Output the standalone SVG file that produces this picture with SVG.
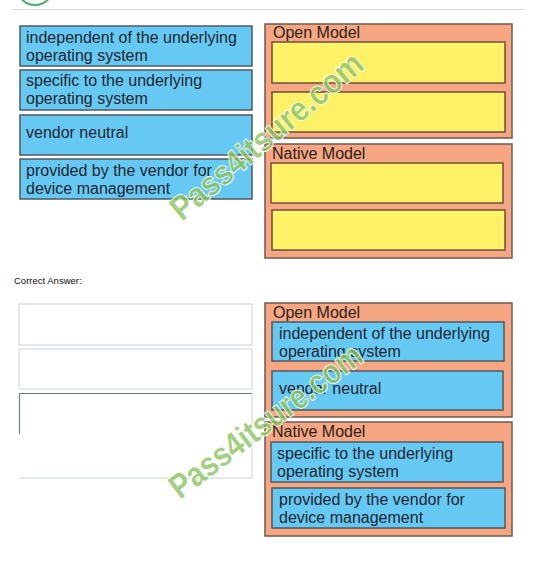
<svg xmlns="http://www.w3.org/2000/svg" width="550" height="566" viewBox="0 0 550 566">
<style>
.item{fill:#66c9f3;stroke:#4d5a60;stroke-width:1.5}
.slot{fill:#fff266;stroke:#6b5040;stroke-width:1.5}
.cont{fill:#f6a682;stroke:#6e5a52;stroke-width:1.5}
.empty{fill:#ffffff;stroke:#c8d2d6;stroke-width:1}
.t{font-family:"Liberation Sans",Arial,sans-serif;font-size:16px;fill:#1f2630}
.h{font-family:"Liberation Sans",Arial,sans-serif;font-size:16px;fill:#2a1f1a}
.wm{font-family:"Liberation Sans",Arial,sans-serif;font-weight:bold;font-size:34px;fill:#86c05a;fill-opacity:0.75;stroke:#ffffff;stroke-width:1.5;paint-order:stroke}
</style>
<rect width="550" height="566" fill="#ffffff"/>
<g id="header">
<circle cx="35" cy="-13" r="18" fill="none" stroke="#4cae6a" stroke-width="2"/>
<line x1="12" y1="9.5" x2="525" y2="9.5" stroke="#dddddd" stroke-width="1"/>
</g>
<g id="q-items">
<g id="q-item1"><rect class="item" x="20" y="26" width="232" height="40"/><text class="t" x="26" y="43">independent of the underlying</text><text class="t" x="26" y="61">operating system</text></g>
<g id="q-item2"><rect class="item" x="20" y="70" width="232" height="40"/><text class="t" x="26" y="86">specific to the underlying</text><text class="t" x="26" y="104">operating system</text></g>
<g id="q-item3"><rect class="item" x="20" y="115" width="232" height="40"/><text class="t" x="26" y="138">vendor neutral</text></g>
<g id="q-item4"><rect class="item" x="20" y="159" width="232" height="40"/><text class="t" x="26" y="176">provided by the vendor for</text><text class="t" x="26" y="194">device management</text></g>
</g>
<g id="q-open">
<rect class="cont" x="265" y="24" width="247" height="114"/>
<text class="h" x="273" y="38">Open Model</text>
<rect class="slot" x="272" y="42" width="233" height="41"/>
<rect class="slot" x="272" y="92" width="233" height="40"/>
</g>
<g id="q-native">
<rect class="cont" x="265" y="144" width="247" height="114"/>
<text class="h" x="272" y="159">Native Model</text>
<rect class="slot" x="271" y="163" width="232" height="40"/>
<rect class="slot" x="272" y="210" width="233" height="40"/>
</g>
<text id="label-correct" x="14" y="284" font-family="Liberation Sans,Arial,sans-serif" font-size="9.5" fill="#111">Correct Answer:</text>
<g id="a-empty">
<rect class="empty" x="19" y="304" width="233" height="41"/>
<rect class="empty" x="19" y="349" width="233" height="40"/>
<path d="M19.5 434 V393.5 H252" fill="none" stroke="#6f7f86" stroke-width="1.2"/>
<path d="M252 394 V478 H19" fill="none" stroke="#c8d2d6" stroke-width="1"/>
</g>
<g id="a-open">
<rect class="cont" x="265" y="303" width="247" height="114"/>
<text class="h" x="273" y="318">Open Model</text>
<g id="a-item1"><rect class="item" x="272" y="322" width="232" height="39"/><text class="t" x="279" y="339">independent of the underlying</text><text class="t" x="279" y="357">operating system</text></g>
<g id="a-item3"><rect class="item" x="272" y="371" width="231" height="39"/><text class="t" x="279" y="394">vendor neutral</text></g>
</g>
<g id="a-native">
<rect class="cont" x="265" y="422" width="247" height="114"/>
<text class="h" x="272" y="437">Native Model</text>
<g id="a-item2"><rect class="item" x="271" y="442" width="232" height="40"/><text class="t" x="277" y="459">specific to the underlying</text><text class="t" x="277" y="477">operating system</text></g>
<g id="a-item4"><rect class="item" x="272" y="488" width="233" height="40"/><text class="t" x="279" y="505">provided by the vendor for</text><text class="t" x="279" y="523">device management</text></g>
</g>
<g id="watermarks">
<text class="wm" transform="translate(182,222) rotate(-40)" textLength="240" lengthAdjust="spacingAndGlyphs">Pass4itsure.com</text>
<text class="wm" transform="translate(180,500) rotate(-37)" textLength="232" lengthAdjust="spacingAndGlyphs">Pass4itsure.com</text>
</g>
</svg>
